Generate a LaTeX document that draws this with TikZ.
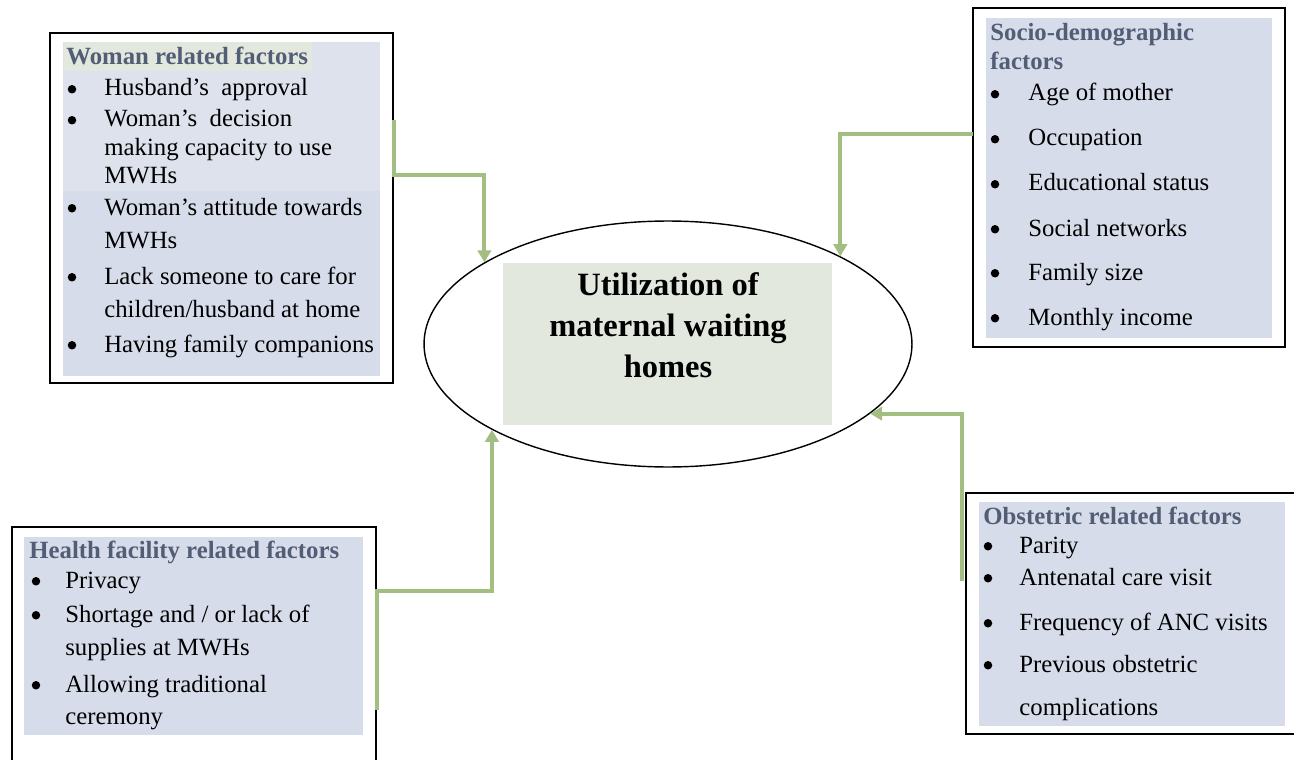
\documentclass[tikz,border=0pt]{standalone}
\usepackage{fontspec}
\setmainfont{Liberation Serif}
\usetikzlibrary{arrows.meta,shapes.geometric,fit}
\definecolor{boxfill}{RGB}{214,220,233}
\definecolor{boxfilltop}{RGB}{221,226,237}
\definecolor{headfill}{RGB}{227,232,222}
\definecolor{headtext}{RGB}{82,93,118}
\definecolor{titlefill}{RGB}{226,232,222}
\definecolor{linkgreen}{RGB}{162,190,128}

\begin{document}
\begin{tikzpicture}[x=0.02cm, y=-0.02cm,
    factorbox/.style={draw, line width=0.9pt, inner sep=0pt},
    headline/.style={anchor=base west, inner sep=0pt, text=headtext,
        font=\fontsize{14.1}{17}\selectfont\bfseries},
    itemline/.style={anchor=base west, inner sep=0pt,
        font=\fontsize{14.1}{17}\selectfont},
    bulletmark/.style={circle, fill, inner sep=0pt,
        minimum size=0.17cm, yshift=0.135cm},
    titleline/.style={anchor=base, inner sep=0pt,
        font=\fontsize{18.5}{23}\selectfont\bfseries},
    hubellipse/.style={ellipse, draw, line width=0.8pt,
        minimum width=9.76cm, minimum height=4.92cm, inner sep=0pt},
    linkarrow/.style={draw=linkgreen, line width=2.3pt,
        -{Triangle[width=0.27cm,length=0.24cm]}}]
        \useasboundingbox (0,0) rectangle (1294,760);
        \node[hubellipse] (util) at (668,344) {};
            \fill[titlefill] (503,263) rectangle (832,425);
            \node[titleline] (t1) at (668,295) {Utilization of};
            \node[titleline] (t2) at (668,336) {maternal waiting};
            \node[titleline] (t3) at (668,377) {homes};
        \fill[boxfill] (63,42) rectangle (380,376);
        \fill[boxfilltop] (63,42) rectangle (380,191);
        \fill[headfill] (64,42) rectangle (312,71);
        \node[factorbox, fit={(50,33) (393,383)}] (woman) {};
            \node[headline] (wh) at (66,65) {Woman related factors};
            \foreach \yy in {96,127,215,284,352}
                \node[bulletmark] (wb\yy) at (72,\yy) {};
            \foreach \n/\yy/\txt in {1/96/{Husband's\ \ approval},
                2/127/{Woman's\ \ decision}, 3/156/{making capacity to use},
                4/184/{MWHs}, 5/215/{Woman's attitude towards},
                6/248/{MWHs}, 7/284/{Lack someone to care for},
                8/317/{children/husband at home},
                9/352/{Having family companions}}
                \node[itemline] (w\n) at (104,\yy) {\txt};
        \fill[boxfill] (986,18) rectangle (1272,338);
        \node[factorbox, fit={(973,8) (1285,347)}] (socio) {};
            \node[headline] (sh1) at (990,41) {Socio-demographic};
            \node[headline] (sh2) at (990,70) {factors};
            \foreach \n/\yy/\txt in {1/101/{Age of mother},
                2/146/{Occupation}, 3/191/{Educational status},
                4/236/{Social networks}, 5/280/{Family size},
                6/325/{Monthly income}}
            {
                \node[bulletmark] (sb\n) at (995,\yy) {};
                \node[itemline] (s\n) at (1028,\yy) {\txt};
            }
        \fill[boxfill] (24,537) rectangle (363,735);
        \node[factorbox, fit={(12,527) (376,770)}] (health) {};
            \node[headline] (hh) at (29,558) {Health facility related factors};
            \foreach \yy in {588,622,692}
                \node[bulletmark] (hb\yy) at (36,\yy) {};
            \foreach \n/\yy/\txt in {1/588/{Privacy},
                2/622/{Shortage and / or lack of}, 3/655/{supplies at MWHs},
                4/692/{Allowing traditional}, 5/724/{ceremony}}
                \node[itemline] (h\n) at (65,\yy) {\txt};
        \fill[boxfill] (979,502) rectangle (1285,726);
        \node[factorbox, fit={(966,493) (1300,734)}] (obst) {};
            \node[headline] (oh) at (983,524) {Obstetric related factors};
            \foreach \yy in {553,585,630,672}
                \node[bulletmark] (ob\yy) at (988,\yy) {};
            \foreach \n/\yy/\txt in {1/553/{Parity},
                2/585/{Antenatal care visit}, 3/630/{Frequency of ANC visits},
                4/672/{Previous obstetric}, 5/715/{complications}}
                \node[itemline] (o\n) at (1019,\yy) {\txt};
        \coordinate (w-out) at (394,120);
        \coordinate (w-bend) at (394,175);
        \coordinate (s-out) at (973,134);
        \coordinate (o-out) at (962,581);
        \coordinate (h-out) at (377,710);
        \coordinate (h-bend) at (377,591);
        \draw[linkarrow] (w-out) -- (w-bend) -| (util.156.6);
        \draw[linkarrow] (s-out) -| (util.27.6);
        \draw[linkarrow] (o-out) |- (util.341.1);
        \draw[linkarrow] (h-out) -- (h-bend) -| (util.206.4);
    \end{tikzpicture}
\end{document}
